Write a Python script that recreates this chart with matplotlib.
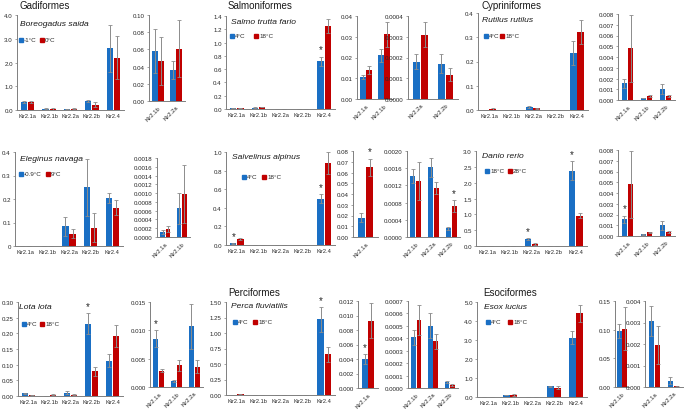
import matplotlib
matplotlib.use("Agg")
import matplotlib.pyplot as plt
import numpy as np
from matplotlib.ticker import FormatStrFormatter, FixedLocator, FixedFormatter
from matplotlib.lines import Line2D

genes = ["Kir2.1a", "Kir2.1b", "Kir2.2a", "Kir2.2b", "Kir2.4"]

# Boreogadus saida (-1°C / 0°C)
bsa_c = [0.35, 0.058, 0.036, 0.38, 2.6]
bsa_c_err = [0.05, 0.026, 0.010, 0.05, 1.0]
bsa_w = [0.33, 0.047, 0.061, 0.23, 2.2]
bsa_w_err = [0.05, 0.028, 0.033, 0.12, 0.9]

# Salmo trutta fario (4°C / 18°C)
stf_c = [0.0105, 0.021, 0.00018, 0.00017, 0.72]
stf_c_err = [0.001, 0.003, 0.000035, 0.000045, 0.07]
stf_w = [0.014, 0.0313, 0.00031, 0.000118, 1.25]
stf_w_err = [0.002, 0.006, 0.00006, 0.00003, 0.10]

# Rutilus rutilus (4°C / 18°C)
rru_c = [0.00155, 0.0002, 0.013, 0.001, 0.235]
rru_c_err = [0.0004, 0.00003, 0.005, 0.00045, 0.05]
rru_w = [0.0048, 0.00037, 0.007, 0.0004, 0.322]
rru_w_err = [0.0031, 0.0001, 0.003, 0.0001, 0.05]

# Eleginus navaga (-0.9°C / 9°C)
ena_c = [0.00012, 0.00065, 0.083, 0.249, 0.204]
ena_c_err = [0.00005, 0.00035, 0.04, 0.123, 0.02]
ena_w = [0.00018, 0.00098, 0.053, 0.078, 0.163]
ena_w_err = [0.00006, 0.00066, 0.02, 0.062, 0.032]

# Salvelinus alpinus (4°C / 18°C)
sal_c = [0.018, 0.00141, 0.00162, 0.0002, 0.50]
sal_c_err = [0.004, 0.00016, 0.00022, 0.00003, 0.05]
sal_w = [0.065, 0.0013, 0.00115, 0.00072, 0.88]
sal_w_err = [0.008, 0.00045, 0.00014, 0.00013, 0.12]

# Danio rerio (18°C / 28°C)
dre_c = [0.00155, 0.00015, 0.22, 0.001, 2.38]
dre_c_err = [0.00035, 0.00003, 0.03, 0.00042, 0.3]
dre_w = [0.0048, 0.00033, 0.06, 0.0004, 0.95]
dre_w_err = [0.0031, 0.00008, 0.02, 0.00008, 0.08]

# Lota lota (4°C / 18°C)
llo_c = [0.0085, 0.0011, 0.0107, 0.231, 0.113]
llo_c_err = [0.0015, 0.0002, 0.004, 0.033, 0.022]
llo_w = [0.0029, 0.0038, 0.0036, 0.079, 0.192]
llo_w_err = [0.0003, 0.001, 0.0012, 0.015, 0.036]

# Perca fluviatilis (4°C / 18°C)
pfl_c = [0.004, 0.00041, 0.0005, 0.00005, 1.22]
pfl_c_err = [0.0007, 0.00006, 0.0001, 0.00001, 0.2]
pfl_w = [0.0093, 0.00055, 0.000375, 0.000025, 0.66]
pfl_w_err = [0.0024, 0.00012, 0.00006, 0.000005, 0.12]

# Esox lucius (4°C / 18°C)
elu_c = [0.00307, 0.098, 0.0003, 0.57, 3.12]
elu_c_err = [0.0007, 0.012, 0.00015, 0.03, 0.35]
elu_w = [0.00197, 0.102, 0.00003, 0.48, 4.4]
elu_w_err = [0.00088, 0.038, 0.00001, 0.08, 0.45]

BLUE = "#1a6fc4"
RED = "#c00000"
GREY = "#8c8c8c"
TXT = "#262626"

W, H = 685, 410
plt.rcParams["font.family"] = ["Liberation Sans", "DejaVu Sans"]
fig = plt.figure(figsize=(W / 100, H / 100), dpi=100)


def add_ax(x0, y0, x1, y1):
    return fig.add_axes([x0 / W, 1 - y1 / H, (x1 - x0) / W, (y1 - y0) / H])


def style(ax, top, step, fmt, labels=None):
    for s in ["top", "right"]:
        ax.spines[s].set_visible(False)
    for s in ["left", "bottom"]:
        ax.spines[s].set_color("#7f7f7f")
        ax.spines[s].set_linewidth(0.7)
    ticks = np.round(np.arange(0, top + step / 2, step), 8)
    ax.set_ylim(0, top)
    ax.yaxis.set_major_locator(FixedLocator(ticks))
    if labels is not None:
        ax.yaxis.set_major_formatter(FixedFormatter(labels))
    else:
        ax.yaxis.set_major_formatter(FormatStrFormatter(fmt))
    ax.tick_params(axis="y", labelsize=4.4, length=1.8, width=0.5, color="#7f7f7f",
                   labelcolor=TXT, pad=1.2)
    ax.tick_params(axis="x", length=0, labelcolor=TXT, pad=2.5)


def bars(ax, idx, c, ce, w, we, stars=(), rot=False, width=0.29, off=0.165):
    x = np.arange(len(idx))
    cv = [c[i] for i in idx]
    cev = [ce[i] for i in idx]
    wv = [w[i] for i in idx]
    wev = [we[i] for i in idx]
    ekw = dict(ecolor=GREY, elinewidth=0.7, capsize=1.6, capthick=0.6)
    ax.bar(x - off, cv, width, color=BLUE, yerr=cev, error_kw=ekw)
    ax.bar(x + off, wv, width, color=RED, yerr=wev, error_kw=ekw)
    ax.set_xlim(-0.5, len(idx) - 0.5)
    ax.set_xticks(x)
    names = [genes[i] for i in idx]
    if rot:
        ax.set_xticklabels(names, rotation=45, ha="right", rotation_mode="anchor",
                           fontsize=4.2)
    else:
        ax.set_xticklabels(names, fontsize=4.1)
    for (k, side) in stars:
        i = idx[k]
        if side == "c":
            xs, ys = k - off, c[i] + ce[i]
        else:
            xs, ys = k + off, w[i] + we[i]
        ax.annotate("*", (xs, ys), xytext=(0, 1.5), textcoords="offset points",
                    ha="center", va="bottom", fontsize=7, color=TXT)


def header(ax, species, lc, lw, sx, sy, ly, lx1, lx2):
    fig.text(sx / W, 1 - sy / H, species, fontsize=6.1, style="italic", color="#1a1a1a",
             ha="left", va="center")
    for lx, lab, col in [(lx1, lc, BLUE), (lx2, lw, RED)]:
        fig.add_artist(Line2D([lx / W], [1 - ly / H], marker="s", markersize=2.4,
                              color=col, linestyle="none"))
        fig.text((lx + 3.0) / W, 1 - ly / H, lab, fontsize=4.5, color=TXT,
                 ha="left", va="center")


def order(x, y, name):
    fig.text(x / W, 1 - y / H, name, fontsize=7.0, color="#1a1a1a", ha="left", va="center")


ALL = [0, 1, 2, 3, 4]

# ---------------- Row 1 ----------------
order(20, 6, "Gadiformes")
ax = add_ax(17, 16, 124, 111)
style(ax, 4.0, 1.0, "%.1f")
bars(ax, ALL, bsa_c, bsa_c_err, bsa_w, bsa_w_err)
header(ax, "Boreogadus saida", "-1°C", "0°C", 20, 25, 41, 21, 42)
ax = add_ax(149, 16, 185, 102)
style(ax, 0.10, 0.02, "%.2f")
bars(ax, [1, 2], bsa_c, bsa_c_err, bsa_w, bsa_w_err, rot=True)

order(228, 6, "Salmoniformes")
ax = add_ax(226, 17, 335, 110)
style(ax, 1.4, 0.2, "%.1f")
bars(ax, ALL, stf_c, stf_c_err, stf_w, stf_w_err, stars=[(4, "c")])
header(ax, "Salmo trutta fario", "4°C", "18°C", 231, 22, 37, 232, 256)
ax = add_ax(357, 17, 393, 100)
style(ax, 0.04, 0.01, "%.2f")
bars(ax, [0, 1], stf_c, stf_c_err, stf_w, stf_w_err, rot=True)
ax = add_ax(408, 17, 458, 100)
style(ax, 0.0004, 0.0001, "%.4f")
bars(ax, [2, 3], stf_c, stf_c_err, stf_w, stf_w_err, rot=True)

order(481, 6, "Cypriniformes")
ax = add_ax(478, 14, 588, 111)
style(ax, 0.4, 0.1, "%.1f")
bars(ax, ALL, rru_c, rru_c_err, rru_w, rru_w_err)
header(ax, "Rutilus rutilus", "4°C", "18°C", 482, 20, 37, 486, 502)
ax = add_ax(618, 15, 675, 101)
style(ax, 0.008, 0.001, "%.3f")
bars(ax, [0, 1, 3], rru_c, rru_c_err, rru_w, rru_w_err, rot=True)

# ---------------- Row 2 ----------------
ax = add_ax(15, 153, 123, 247)
style(ax, 0.4, 0.1, "%.1f", labels=["0", "0.1", "0.2", "0.3", "0.4"])
bars(ax, ALL, ena_c, ena_c_err, ena_w, ena_w_err)
header(ax, "Eleginus navaga", "-0.9°C", "9°C", 20, 160, 175, 21, 48)
ax = add_ax(157, 159, 190, 238)
style(ax, 0.0018, 0.0002, "%.4f")
bars(ax, [0, 1], ena_c, ena_c_err, ena_w, ena_w_err, rot=True)

ax = add_ax(226, 153, 335, 246)
style(ax, 1.0, 0.2, "%.1f")
bars(ax, ALL, sal_c, sal_c_err, sal_w, sal_w_err, stars=[(0, "c"), (4, "c")])
header(ax, "Salvelinus alpinus", "4°C", "18°C", 232, 158, 178, 244, 264)
ax = add_ax(353, 152, 378, 238)
style(ax, 0.08, 0.01, "%.2f")
bars(ax, [0], sal_c, sal_c_err, sal_w, sal_w_err, stars=[(0, "w")], rot=True)
ax = add_ax(407, 152, 460, 238)
style(ax, 0.0020, 0.0004, "%.4f")
bars(ax, [1, 2, 3], sal_c, sal_c_err, sal_w, sal_w_err, stars=[(2, "w")], rot=True)

ax = add_ax(476, 152, 587, 247)
style(ax, 3.0, 0.5, "%.1f")
bars(ax, ALL, dre_c, dre_c_err, dre_w, dre_w_err, stars=[(2, "c"), (4, "c")])
header(ax, "Danio rerio", "18°C", "28°C", 482, 157, 172, 487, 510)
ax = add_ax(618, 151, 675, 237)
style(ax, 0.008, 0.001, "%.3f")
bars(ax, [0, 1, 3], dre_c, dre_c_err, dre_w, dre_w_err, stars=[(0, "c")], rot=True)

# ---------------- Row 3 ----------------
ax = add_ax(18, 303, 123, 397)
style(ax, 0.30, 0.05, "%.2f")
bars(ax, ALL, llo_c, llo_c_err, llo_w, llo_w_err, stars=[(3, "c")])
header(ax, "Lota lota", "4°C", "18°C", 19, 308, 325, 24, 42)
ax = add_ax(150, 303, 203, 388)
style(ax, 0.015, 0.005, "%.3f")
bars(ax, [0, 1, 2], llo_c, llo_c_err, llo_w, llo_w_err, stars=[(0, "c")], rot=True)

order(228, 293, "Perciformes")
ax = add_ax(226, 303, 335, 396)
style(ax, 1.50, 0.25, "%.2f")
bars(ax, ALL, pfl_c, pfl_c_err, pfl_w, pfl_w_err, stars=[(4, "c")])
header(ax, "Perca fluviatilis", "4°C", "18°C", 231, 307, 323, 235, 255)
ax = add_ax(358, 302, 378, 389)
style(ax, 0.012, 0.002, "%.3f")
bars(ax, [0], pfl_c, pfl_c_err, pfl_w, pfl_w_err, stars=[(0, "c")], rot=True)
ax = add_ax(408, 302, 458, 389)
style(ax, 0.0007, 0.0001, "%.4f")
bars(ax, [1, 2, 3], pfl_c, pfl_c_err, pfl_w, pfl_w_err, rot=True)

order(483, 293, "Esociformes")
ax = add_ax(477, 303, 587, 398)
style(ax, 5.0, 1.0, "%.1f")
bars(ax, ALL, elu_c, elu_c_err, elu_w, elu_w_err)
header(ax, "Esox lucius", "4°C", "18°C", 484, 308, 323, 488, 510)
ax = add_ax(615, 302, 629, 388)
style(ax, 0.15, 0.05, "%.2f")
bars(ax, [1], elu_c, elu_c_err, elu_w, elu_w_err, rot=True, width=0.36, off=0.19)
ax = add_ax(645, 302, 683, 388)
style(ax, 0.004, 0.001, "%.3f")
bars(ax, [0, 2], elu_c, elu_c_err, elu_w, elu_w_err, rot=True)

fig.savefig("out.png", dpi=100)
